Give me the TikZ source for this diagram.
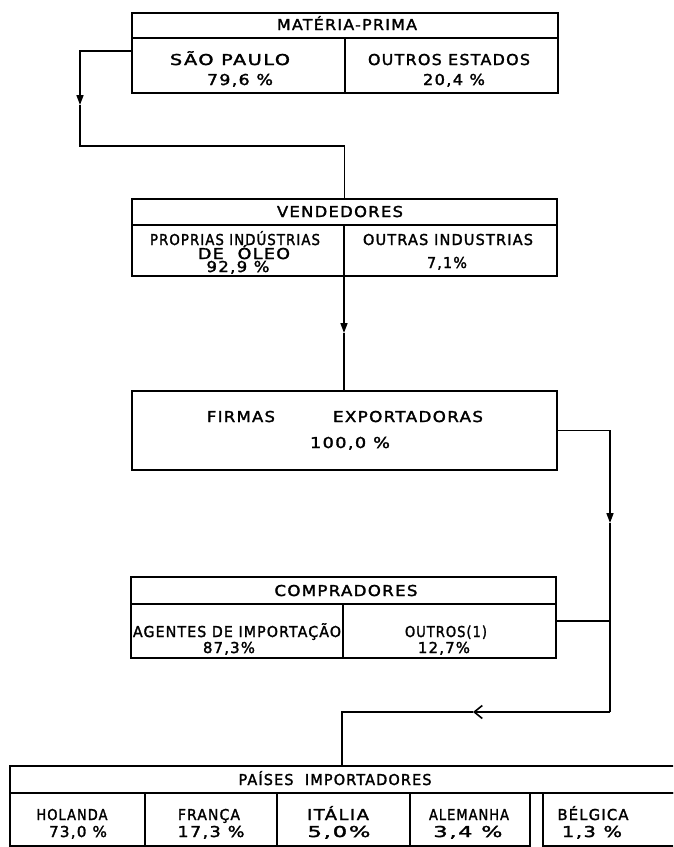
\documentclass[tikz,border=0pt]{standalone}
\usepackage{fontspec}
\setmainfont{DejaVu Sans}[LetterSpace=8,FakeBold=1.8]
\usepackage{graphicx}
\usetikzlibrary{arrows.meta}
\newcommand{\tx}[2]{\resizebox{#1pt}{\height}{#2}}
\begin{document}
\begin{tikzpicture}[x=1pt,y=-1pt,
  box/.style={draw, line width=1.6pt, inner sep=0pt, outer sep=0pt, anchor=north west},
  conn/.style={line width=1.6pt},
  dtip/.style={-{Triangle[length=10pt,width=7pt]}},
  ltip/.style={-{Straight Barb[length=8pt,width=13pt,line width=1.6pt]}},
  t/.style={inner sep=0pt, text height=10pt, text depth=0pt, font=\fontsize{15}{17}\selectfont}]
\clip (0,0) rectangle (673,847);
% MATERIA-PRIMA
\node[box, minimum width=426pt, minimum height=25pt] (mph) at (132,13) {};
\node[box, minimum width=213pt, minimum height=55pt] (mp1) at (132,38) {};
\node[box, minimum width=213pt, minimum height=55pt] (mp2) at (345,38) {};
\node[t] (tmp) at (347,25) {\tx{140}{MATÉRIA-PRIMA}};
\node[t] (tsp) at (230,60) {\tx{120}{SÃO PAULO}};
\node[t] (tsp2) at (240,80) {\tx{66}{79,6 \%}};
\node[t] (toe) at (449,60) {\tx{162}{OUTROS ESTADOS}};
\node[t] (toe2) at (454,80) {\tx{62}{20,4 \%}};
% VENDEDORES
\node[box, minimum width=425pt, minimum height=26pt] (vh) at (132,199) {};
\node[box, minimum width=212pt, minimum height=51pt] (v1) at (132,225) {};
\node[box, minimum width=213pt, minimum height=51pt] (v2) at (344,225) {};
\node[t] (tv) at (340,212) {\tx{126}{VENDEDORES}};
\node[t] (tv1) at (235,240) {\tx{170}{PROPRIAS INDÚSTRIAS}};
\node[t] (tv2) at (244,254) {\tx{92}{DE~~ÓLEO}};
\node[t] (tv3) at (238,267) {\tx{63}{92,9 \%}};
\node[t] (tv4) at (448,240) {\tx{170}{OUTRAS INDUSTRIAS}};
\node[t] (tv5) at (447,263) {\tx{40}{7,1\%}};
% FIRMAS
\node[box, minimum width=425pt, minimum height=79pt] (f) at (132,391) {};
\node[t] (tf) at (345,417) {\tx{68}{FIRMAS}\hspace{58pt}\tx{150}{EXPORTADORAS}};
\node[t] (tf2) at (350,443) {\tx{80}{100,0 \%}};
% COMPRADORES
\node[box, minimum width=425pt, minimum height=27pt] (ch) at (131,577) {};
\node[box, minimum width=212pt, minimum height=54pt] (c1) at (131,604) {};
\node[box, minimum width=213pt, minimum height=54pt] (c2) at (343,604) {};
\node[t] (tc) at (346,591) {\tx{143}{COMPRADORES}};
\node[t] (tc1) at (237,632) {\tx{208}{AGENTES DE IMPORTAÇÃO}};
\node[t] (tc2) at (229,648) {\tx{52}{87,3\%}};
\node[t] (tc3) at (446,632) {\tx{82}{OUTROS(1)}};
\node[t] (tc4) at (444,648) {\tx{52}{12,7\%}};
% PAISES
\node[box, minimum width=690pt, minimum height=27pt] (ph) at (10,766) {};
\node[box, minimum width=135pt, minimum height=53pt] (p1) at (10,793) {};
\node[box, minimum width=132pt, minimum height=53pt] (p2) at (145,793) {};
\node[box, minimum width=133pt, minimum height=53pt] (p3) at (277,793) {};
\node[box, minimum width=120pt, minimum height=53pt] (p4) at (410,793) {};
\node[box, minimum width=150pt, minimum height=53pt] (p5) at (543,793) {};
\node[t] (tp) at (335,780) {\tx{193}{PAÍSES~~IMPORTADORES}};
\node[t] (tp1) at (72,815) {\tx{71}{HOLANDA}};
\node[t] (tp1b) at (78,832) {\tx{58}{73,0 \%}};
\node[t] (tp2) at (209,815) {\tx{62}{FRANÇA}};
\node[t] (tp2b) at (211,832) {\tx{67}{17,3 \%}};
\node[t] (tp3) at (338,815) {\tx{62}{ITÁLIA}};
\node[t] (tp3b) at (339,832) {\tx{63}{5,0\%}};
\node[t] (tp4) at (469,815) {\tx{80}{ALEMANHA}};
\node[t] (tp4b) at (468,832) {\tx{69}{3,4 \%}};
\node[t] (tp5) at (593,815) {\tx{71}{BÉLGICA}};
\node[t] (tp5b) at (592,832) {\tx{60}{1,3 \%}};
% connectors
\coordinate (k0) at (80,105);
\coordinate (k1) at (80,146);
\draw[conn,dtip] ([yshift=-13pt]mp1.north west) -| (k0);
\draw[conn] (k0) -- (k1) -| (vh.north);
\draw[conn,dtip] (v1.south east) -- ++(0,57) coordinate (k2);
\draw[conn] (k2) -- (k2 |- f.north);
\coordinate (k3) at (610,523);
\coordinate (k4) at (610,621);
\coordinate (k5) at (610,712);
\coordinate (k6) at (473,712);
\coordinate (k7) at (342,712);
\draw[conn,dtip] (f.east) -| (k3);
\draw[conn] (k3) -- (k5);
\draw[conn] (c2.east |- k4) -- (k4);
\draw[conn,ltip] (k5) -- (k6);
\draw[conn] (k6) -- (k7) -- (k7 |- ph.north);
\end{tikzpicture}
\end{document}
